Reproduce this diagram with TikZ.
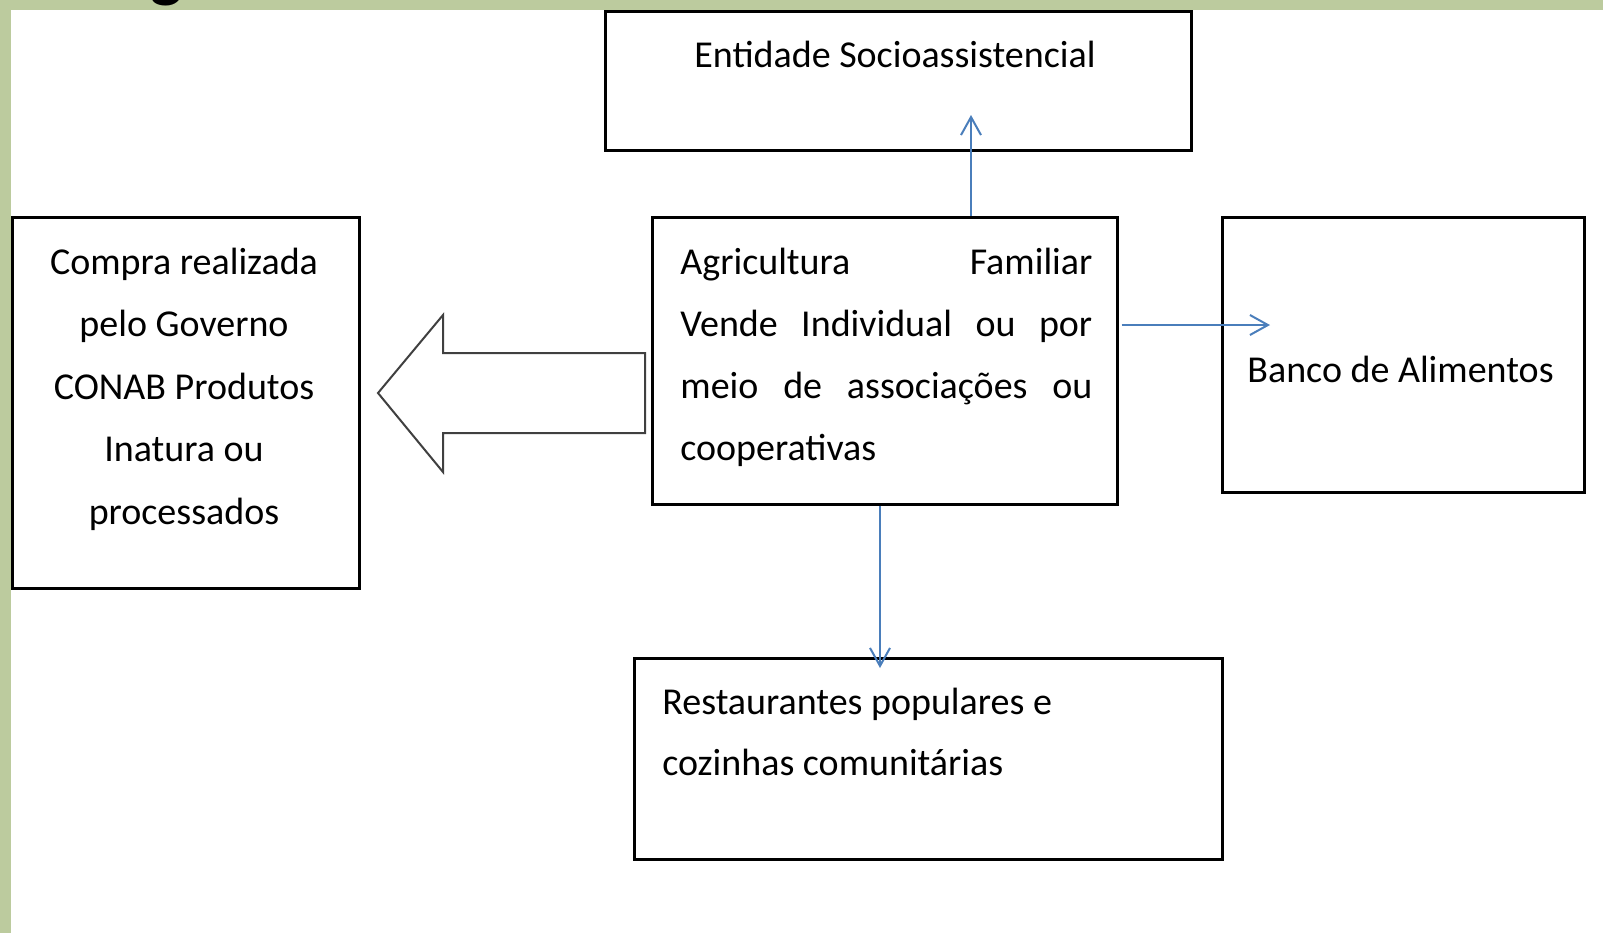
\documentclass[tikz,border=0pt]{standalone}
\usepackage{fontspec}
\setmainfont{Carlito}
\usetikzlibrary{arrows.meta}
\definecolor{frameC}{RGB}{188,203,158}
\definecolor{connC}{RGB}{74,126,187}
\definecolor{blockC}{RGB}{64,64,64}
\begin{document}
\begin{tikzpicture}[x=0.5pt,y=-0.5pt,
  box/.style={draw=black, line width=1.5pt, rectangle, inner sep=0pt},
  conn/.style={draw=connC, line width=1pt, -{Straight Barb[length=9pt,width=10pt]}},
  txt/.style={inner sep=0pt, font=\fontsize{19}{31}\selectfont},
  blockarrow/.style={draw=blockC, line width=1pt, fill=white, line join=miter}]
\useasboundingbox (0,0) rectangle (1603,933);
\fill[white] (0,0) rectangle (1603,933);
\fill[frameC] (0,0) rectangle (1603,10);
\fill[frameC] (0,0) rectangle (11,933);
\begin{scope}
  \clip (0,0) rectangle (1603,10);
  \node[anchor=base west, inner sep=0pt, font=\bfseries\fontsize{34}{36}\selectfont] (ttl) at (150,-6) {g};
\end{scope}

% boxes
\node[box, minimum width=293pt, minimum height=69.5pt] (ent) at (898,80.5) {};
\node[box, minimum width=173.5pt, minimum height=185.5pt] (com) at (185.5,402.5) {};
\node[box, minimum width=232.5pt, minimum height=143.5pt] (agr) at (884.5,360.5) {};
\node[box, minimum width=181pt, minimum height=137.5pt] (ban) at (1403,354.5) {};
\node[box, minimum width=294pt, minimum height=100.5pt] (res) at (928,758.5) {};

% texts
\node[txt, anchor=base] (entT) at (895,67) {Entidade Socioassistencial};
\node[txt, anchor=base west] (agrT) at (680,274) {\parbox[t]{206pt}{\fontsize{19}{31}\selectfont
  \makebox[206pt][s]{Agricultura Familiar}\\
  \makebox[206pt][s]{Vende Individual ou por}\\
  \makebox[206pt][s]{meio de associações ou}\\
  cooperativas}};
\node[txt, anchor=base] (comT) at (184,274) {\parbox[t]{170pt}{\centering\fontsize{19}{31.25}\selectfont
  Compra realizada\\ pelo Governo\\ CONAB Produtos\\ Inatura ou\\ processados}};
\node[txt, anchor=base west] (banT) at (1247,382) {Banco de Alimentos};
\node[txt, anchor=base west] (resT) at (662,714) {\parbox[t]{220pt}{\fontsize{19}{30.7}\selectfont
  Restaurantes populares e\\ cozinhas comunitárias}};

% block arrow from Agricultura to Compra
\draw[blockarrow] (645,353) -- (443,353) -- (443,315) -- (378,393) -- (443,472) -- (443,433) -- (645,433) -- cycle;

% connectors
\coordinate (entTip) at (971,115);
\coordinate (banTip) at (1270,325);
\coordinate (resTip) at (880,668);
\draw[conn] (agr.north -| entTip) -- (entTip);
\draw[conn] ([xshift=1.5pt]agr.east |- banTip) -- (banTip);
\draw[conn] (agr.south -| resTip) -- (resTip);
\end{tikzpicture}
\end{document}
